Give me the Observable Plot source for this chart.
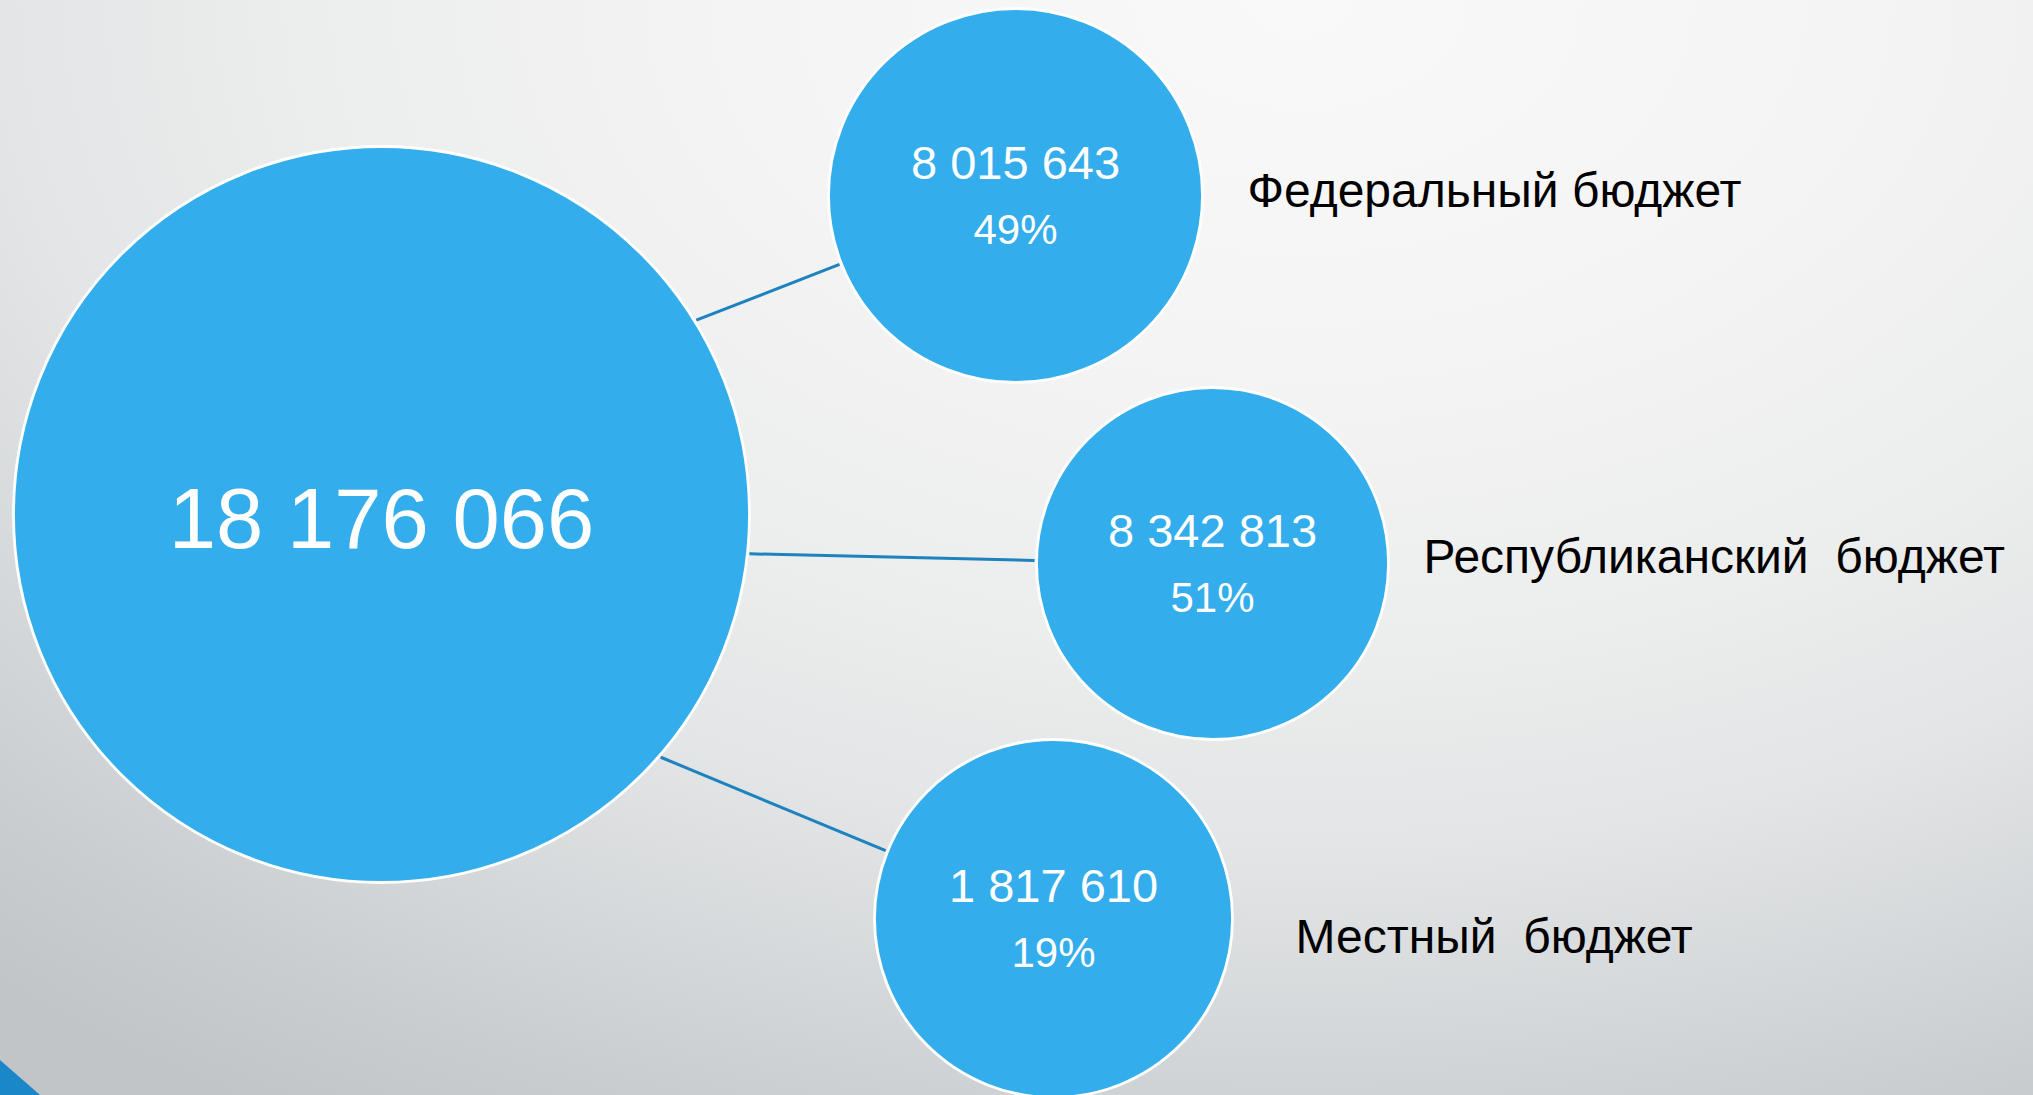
<!DOCTYPE html>
<html>
<head>
<meta charset="utf-8">
<script src="https://cdn.jsdelivr.net/npm/d3@7"></script>
<script src="https://cdn.jsdelivr.net/npm/@observablehq/plot@0.6"></script>
<style>
  html, body { margin: 0; padding: 0; }
  #wrap {
    position: relative; width: 2033px; height: 1095px; overflow: hidden;
    background: radial-gradient(2000px 1300px at 1300px 0px,
      #f9f9f9 0%, #f4f4f4 28%, #eceded 50%, #e3e5e6 65%, #d6d9db 78%, #c9cdd0 90%, #c1c5c8 100%);
  }
  #corner {
    position: absolute; left: 0; bottom: 0; width: 40px; height: 35px;
    background: #1a87c9; clip-path: polygon(0 0, 0 100%, 100% 100%);
  }
  #chart { position: absolute; left: 0; top: 0; }
</style>
</head>
<body>
<div id="wrap"><div id="chart"></div><div id="corner"></div></div>
<script>
// ---- data ----
const totalValue = 18176066;
const categories = ["Федеральный бюджет", "Республиканский  бюджет", "Местный  бюджет"];
const values = [8015643, 8342813, 1817610];
const shares = ["49%", "51%", "19%"];

// ---- layout (pixel space of the slide) ----
const totalCircle = {x: 381, y: 514, r: 368};
const partX = [1015, 1212, 1053];
const partY = [195, 563, 918];
const partR = [187, 176, 179];
const linkStartAngle = [-31.7, 6.1, 41.0];   // degrees on the big circle
const linkEndAngle = [158.6, 181.0, 202.0];  // degrees on each small circle
const labelX = [1247, 1423, 1295];
const labelY = [206, 572, 952];

const W = 2033, H = 1095;
const fmt = d3.formatLocale({thousands: " ", grouping: [3], decimal: ","}).format(",");
const rad = a => a * Math.PI / 180;

const parts = categories.map((c, i) => ({
  name: c, value: values[i], share: shares[i],
  x: partX[i], y: partY[i], r: partR[i],
  lx: labelX[i], ly: labelY[i]
}));
const circles = [{...totalCircle}, ...parts.map(p => ({x: p.x, y: p.y, r: p.r}))];
const links = parts.map((p, i) => ({
  x1: totalCircle.x + (totalCircle.r + 2) * Math.cos(rad(linkStartAngle[i])),
  y1: totalCircle.y + (totalCircle.r + 2) * Math.sin(rad(linkStartAngle[i])),
  x2: p.x + (p.r + 2) * Math.cos(rad(linkEndAngle[i])),
  y2: p.y + (p.r + 2) * Math.sin(rad(linkEndAngle[i]))
}));

const font = "'Liberation Sans', Arial, Helvetica, sans-serif";

const chart = Plot.plot({
  width: W, height: H,
  margin: 0,
  x: {domain: [0, W], range: [0, W], axis: null},
  y: {domain: [0, H], range: [0, H], axis: null},
  r: {type: "identity"},
  style: {background: "transparent", overflow: "visible"},
  marks: [
    Plot.link(links, {x1: "x1", y1: "y1", x2: "x2", y2: "y2", stroke: "#1d82be", strokeWidth: 3}),
    Plot.dot(circles, {x: "x", y: "y", r: "r", fill: "#33adeb", stroke: "#ffffff", strokeWidth: 2.8}),
    Plot.text([totalValue], {x: () => totalCircle.x, y: () => totalCircle.y, text: d => fmt(d),
      fill: "white", fontSize: 85, fontFamily: font, textAnchor: "middle", lineAnchor: "middle", dy: 6}),
    Plot.text(parts, {x: "x", y: "y", text: d => fmt(d.value), fill: "white", fontSize: 47,
      fontFamily: font, textAnchor: "middle", lineAnchor: "bottom", dy: -17}),
    Plot.text(parts, {x: "x", y: "y", text: "share", fill: "white", fontSize: 42,
      fontFamily: font, textAnchor: "middle", lineAnchor: "bottom", dy: 48}),
    Plot.text(parts, {x: "lx", y: "ly", text: "name", fill: "#000000", fontSize: 48,
      fontFamily: font, textAnchor: "start", lineAnchor: "bottom"})
  ]
});
document.getElementById("chart").appendChild(chart);
</script>
</body>
</html>
